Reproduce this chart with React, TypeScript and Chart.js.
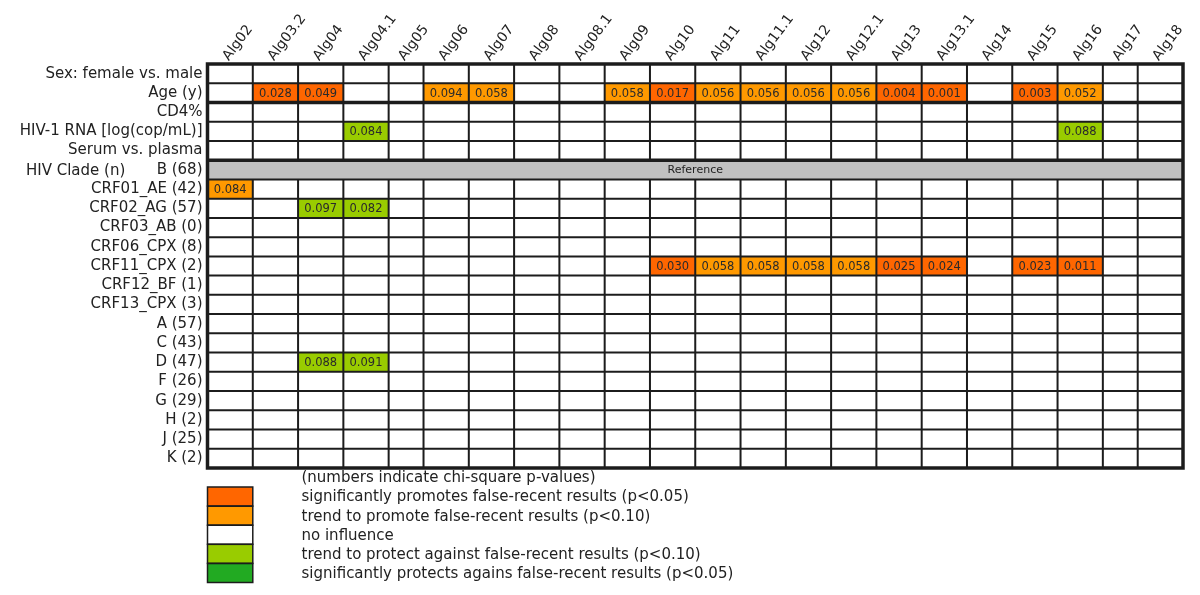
import { useEffect, useRef } from 'react';
import { Chart, registerables } from 'chart.js';

Chart.register(...registerables);

const FONT = "'DejaVu Sans', Verdana, sans-serif";

// ---- data ----
const algorithms = [
  'Alg02', 'Alg03.2', 'Alg04', 'Alg04.1', 'Alg05', 'Alg06', 'Alg07', 'Alg08', 'Alg08.1', 'Alg09', 'Alg10',
  'Alg11', 'Alg11.1', 'Alg12', 'Alg12.1', 'Alg13', 'Alg13.1', 'Alg14', 'Alg15', 'Alg16', 'Alg17', 'Alg18',
];
const narrowAlgorithms = ['Alg05', 'Alg17'];

const rowLabels = [
  'Sex: female vs. male', 'Age (y)', 'CD4%', 'HIV-1 RNA [log(cop/mL)]', 'Serum vs. plasma',
  'B (68)', 'CRF01_AE (42)', 'CRF02_AG (57)', 'CRF03_AB (0)', 'CRF06_CPX (8)', 'CRF11_CPX (2)',
  'CRF12_BF (1)', 'CRF13_CPX (3)', 'A (57)', 'C (43)', 'D (47)', 'F (26)', 'G (29)', 'H (2)', 'J (25)', 'K (2)',
];
const referenceRow = 'B (68)';
const referenceText = 'Reference';
const cladeGroupTitle = 'HIV Clade (n)';
const thickAfterRows = ['Age (y)', 'Serum vs. plasma'];

const _ = null;
const pAge = [_, 0.028, 0.049, _, _, 0.094, 0.058, _, _, 0.058, 0.017, 0.056, 0.056, 0.056, 0.056, 0.004, 0.001, _, 0.003, 0.052, _, _];
const pHivRna = [_, _, _, 0.084, _, _, _, _, _, _, _, _, _, _, _, _, _, _, _, 0.088, _, _];
const pCrf01 = [0.084, _, _, _, _, _, _, _, _, _, _, _, _, _, _, _, _, _, _, _, _, _];
const pCrf02 = [_, _, 0.097, 0.082, _, _, _, _, _, _, _, _, _, _, _, _, _, _, _, _, _, _];
const pCrf11 = [_, _, _, _, _, _, _, _, _, _, 0.030, 0.058, 0.058, 0.058, 0.058, 0.025, 0.024, _, 0.023, 0.011, _, _];
const pCladeD = [_, _, 0.088, 0.091, _, _, _, _, _, _, _, _, _, _, _, _, _, _, _, _, _, _];

const influenceRows = [
  { row: 'Age (y)', effect: 'promote', p: pAge },
  { row: 'HIV-1 RNA [log(cop/mL)]', effect: 'protect', p: pHivRna },
  { row: 'CRF01_AE (42)', effect: 'promote', p: pCrf01 },
  { row: 'CRF02_AG (57)', effect: 'protect', p: pCrf02 },
  { row: 'CRF11_CPX (2)', effect: 'promote', p: pCrf11 },
  { row: 'D (47)', effect: 'protect', p: pCladeD },
];

const legendNote = '(numbers indicate chi-square p-values)';
const legendLabels = [
  'significantly promotes false-recent results (p<0.05)',
  'trend to promote false-recent results (p<0.10)',
  'no influence',
  'trend to protect against false-recent results (p<0.10)',
  'significantly protects agains false-recent results (p<0.05)',
];
const legendColors = ['#FF6600', '#FF9900', '#FFFFFF', '#99CC00', '#22AA22'];
const referenceColor = '#C0C0C0';
const lineColor = '#1c1c1c';

// ---- helpers ----
const colWidths = algorithms.map((a) => (narrowAlgorithms.includes(a) ? 0.77 : 1));
const colEdges: number[] = [0];
colWidths.forEach((w, i) => colEdges.push(colEdges[i] + w));
const totalWidth = colEdges[colEdges.length - 1];
const colCenters = algorithms.map((_a, i) => (colEdges[i] + colEdges[i + 1]) / 2);

function cellP(row: string, col: number) {
  const r = influenceRows.find((x) => x.row === row);
  return r ? { p: r.p[col], effect: r.effect } : { p: null, effect: '' };
}
function cellColor(row: string, col: number) {
  const { p, effect } = cellP(row, col);
  if (p == null) return legendColors[2];
  if (effect === 'promote') return p < 0.05 ? legendColors[0] : legendColors[1];
  return p < 0.05 ? legendColors[4] : legendColors[3];
}

const bodyRows = rowLabels.filter((r) => r !== referenceRow);

const datasets: any[] = algorithms.map((alg, c) => ({
  label: alg,
  data: bodyRows.map((r) => ({ x: [colEdges[c], colEdges[c + 1]], y: r })),
  backgroundColor: bodyRows.map((r) => cellColor(r, c)),
  pValues: bodyRows.map((r) => cellP(r, c).p),
  borderWidth: 0,
  grouped: false,
  barPercentage: 1,
  categoryPercentage: 1,
}));
datasets.push({
  label: referenceText,
  data: [{ x: [0, totalWidth], y: referenceRow }],
  backgroundColor: referenceColor,
  isReference: true,
  borderWidth: 0,
  grouped: false,
  barPercentage: 1,
  categoryPercentage: 1,
});

const gridPlugin = {
  id: 'heatGrid',
  afterDatasetsDraw(chart: any) {
    const { ctx, chartArea: a, scales } = chart;
    const xs = scales.x;
    const ys = scales.y;
    const step = ys.getPixelForValue(1) - ys.getPixelForValue(0);
    const rowEdge = (i: number) => ys.getPixelForValue(i) - step / 2;
    ctx.save();
    // values
    ctx.textAlign = 'center';
    ctx.textBaseline = 'middle';
    chart.data.datasets.forEach((ds: any, d: number) => {
      const meta = chart.getDatasetMeta(d);
      meta.data.forEach((el: any, i: number) => {
        const { x, base, y } = el.getProps(['x', 'base', 'y'], true);
        if (ds.isReference) {
          ctx.font = `11px ${FONT}`;
          ctx.fillStyle = '#222';
          ctx.fillText(referenceText, (x + base) / 2, y + 0.5);
          return;
        }
        const p = ds.pValues[i];
        if (p == null) return;
        ctx.font = `11.5px ${FONT}`;
        ctx.fillStyle = '#2a2a2a';
        ctx.fillText(p.toFixed(3), (x + base) / 2, y + 1);
      });
    });
    // grid lines
    ctx.strokeStyle = lineColor;
    const refIdx = rowLabels.indexOf(referenceRow);
    const thickIdx = thickAfterRows.map((r) => rowLabels.indexOf(r) + 1);
    for (let i = 1; i < rowLabels.length; i++) {
      const yy = rowEdge(i);
      ctx.lineWidth = thickIdx.includes(i) ? 3.5 : 2;
      ctx.beginPath();
      ctx.moveTo(a.left, yy);
      ctx.lineTo(a.right, yy);
      ctx.stroke();
    }
    ctx.lineWidth = 2;
    for (let c = 1; c < algorithms.length; c++) {
      const xx = xs.getPixelForValue(colEdges[c]);
      ctx.beginPath();
      ctx.moveTo(xx, a.top);
      ctx.lineTo(xx, rowEdge(refIdx));
      ctx.moveTo(xx, rowEdge(refIdx + 1));
      ctx.lineTo(xx, a.bottom);
      ctx.stroke();
    }
    ctx.lineWidth = 3.5;
    ctx.strokeRect(a.left, a.top, a.right - a.left, a.bottom - a.top);
    ctx.restore();
  },
  afterDraw(chart: any) {
    const { ctx, chartArea: a, scales } = chart;
    const xs = scales.x;
    const ys = scales.y;
    ctx.save();
    ctx.fillStyle = '#222';
    ctx.font = `15px ${FONT}`;
    ctx.textAlign = 'left';
    ctx.textBaseline = 'middle';
    ctx.fillText(cladeGroupTitle, 26, ys.getPixelForValue(rowLabels.indexOf(referenceRow)) + 1);

    const sw = xs.getPixelForValue(1) - xs.getPixelForValue(0);
    const top = a.bottom + 19;
    const h = 19.1;
    const textX = a.left + 94;
    ctx.fillText(legendNote, textX, top - 9);
    legendLabels.forEach((lab, i) => {
      const y0 = top + i * h;
      ctx.fillStyle = legendColors[i];
      ctx.fillRect(a.left, y0, sw, h);
      ctx.fillStyle = '#222';
      ctx.fillText(lab, textX, y0 + h / 2 + 1);
    });
    ctx.strokeStyle = lineColor;
    ctx.lineWidth = 1.5;
    legendLabels.forEach((_l, i) => {
      ctx.strokeRect(a.left, top + i * h, sw, h);
    });
    ctx.restore();
  },
};

export default function App() {
  const ref = useRef<HTMLCanvasElement>(null);
  useEffect(() => {
    Chart.defaults.font.family = FONT;
    Chart.defaults.color = '#222';
    const chart = new Chart(ref.current as HTMLCanvasElement, {
      type: 'bar',
      data: { labels: rowLabels, datasets },
      options: {
        indexAxis: 'y',
        responsive: false,
        animation: false,
        devicePixelRatio: 1,
        layout: { padding: { left: 0, top: 0, right: 17, bottom: 127 } },
        plugins: { legend: { display: false }, tooltip: { enabled: false } },
        scales: {
          x: {
            type: 'linear',
            position: 'top',
            min: 0,
            max: totalWidth,
            grid: { display: false, drawTicks: false },
            border: { display: false },
            afterBuildTicks: (s: any) => {
              s.ticks = colCenters.map((v) => ({ value: v }));
            },
            afterFit: (s: any) => {
              s.height = 64;
            },
            ticks: {
              autoSkip: false,
              minRotation: 53,
              maxRotation: 53,
              padding: 0,
              labelOffset: 9,
              font: { size: 14, family: FONT },
              color: '#222',
              callback: (_v: any, i: number) => algorithms[i],
            },
          },
          y: {
            type: 'category',
            labels: rowLabels,
            offset: true,
            grid: { display: false, drawTicks: false },
            border: { display: false },
            afterFit: (s: any) => {
              s.width = 207.5;
            },
            ticks: {
              autoSkip: false,
              padding: 5,
              font: { size: 15, family: FONT },
              color: '#222',
            },
          },
        },
      } as any,
      plugins: [gridPlugin],
    });
    return () => chart.destroy();
  }, []);
  return (
    <div style={{ position: 'absolute', left: 0, top: 0, width: 1200, height: 595, background: '#fff' }}>
      <canvas ref={ref} width={1200} height={595} style={{ display: 'block' }} />
    </div>
  );
}
